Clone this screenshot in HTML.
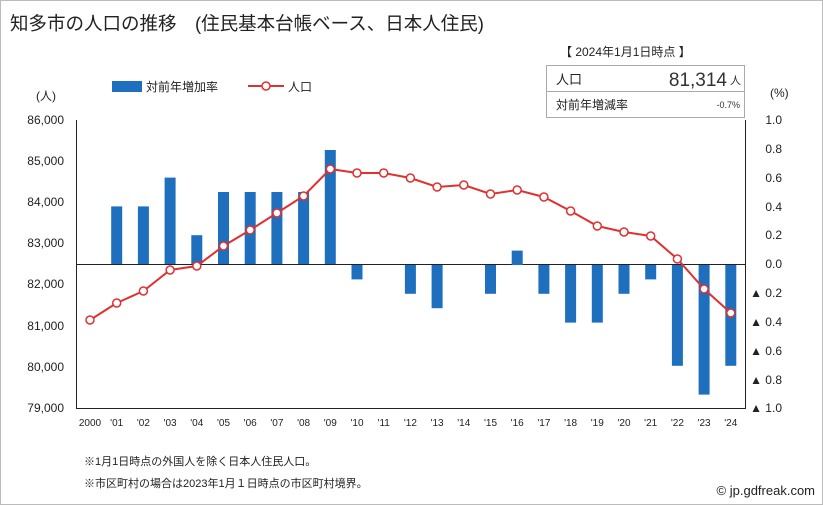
<!DOCTYPE html>
<html><head><meta charset="utf-8"><style>
body{margin:0;background:#fff}
svg{display:block;font-family:"Liberation Sans","Noto Sans CJK JP",sans-serif}
</style></head><body>
<svg width="823" height="505" viewBox="0 0 823 505">
<rect x="0.5" y="0.5" width="822" height="504" fill="#fff" stroke="#bbb"/>
<text x="10" y="30" font-size="18.5" fill="#222">知多市の人口の推移　(住民基本台帳ベース、日本人住民)</text>
<text x="560" y="56" font-size="12" fill="#222">【 2024年1月1日時点 】</text>
<rect x="546.5" y="65.5" width="198" height="52" fill="#fff" stroke="#aaa"/>
<line x1="546" y1="91.5" x2="745" y2="91.5" stroke="#aaa"/>
<text x="556" y="84" font-size="13" fill="#222">人口</text>
<text x="727" y="86" font-size="19" fill="#333" text-anchor="end">81,314</text>
<text x="730" y="84" font-size="11" fill="#333">人</text>
<text x="556" y="109" font-size="12" fill="#222">対前年増減率</text>
<text x="740" y="108" font-size="9" fill="#333" text-anchor="end">-0.7%</text>
<text x="770" y="97" font-size="12" fill="#222">(%)</text>
<text x="36" y="100" font-size="12" fill="#222">(人)</text>
<rect x="112" y="81" width="30" height="11" fill="#1f6fbf"/>
<text x="146" y="91" font-size="12" fill="#222">対前年増加率</text>
<line x1="248" y1="86" x2="284" y2="86" stroke="#e03030" stroke-width="2"/>
<circle cx="266" cy="86" r="4" fill="#fff" stroke="#e03030" stroke-width="1.5"/>
<text x="288" y="91" font-size="12" fill="#222">人口</text>
<g stroke="#222" stroke-width="1">
<line x1="76.5" y1="120" x2="76.5" y2="408"/>
<line x1="745.5" y1="120" x2="745.5" y2="408"/>
<line x1="76" y1="408.5" x2="746" y2="408.5"/>
<line x1="76" y1="264.5" x2="746" y2="264.5"/>
</g>
<g font-size="12" fill="#222" text-anchor="end">
<text x="64" y="124">86,000</text><text x="64" y="165">85,000</text><text x="64" y="206">84,000</text><text x="64" y="247">83,000</text><text x="64" y="288">82,000</text><text x="64" y="330">81,000</text><text x="64" y="371">80,000</text><text x="64" y="412">79,000</text>
</g>
<g font-size="12" fill="#222" text-anchor="end">
<text x="782" y="124">1.0</text><text x="782" y="153">0.8</text><text x="782" y="182">0.6</text><text x="782" y="211">0.4</text><text x="782" y="239">0.2</text><text x="782" y="268">0.0</text><text x="782" y="297">▲ 0.2</text><text x="782" y="326">▲ 0.4</text><text x="782" y="355">▲ 0.6</text><text x="782" y="384">▲ 0.8</text><text x="782" y="412">▲ 1.0</text>
</g>
<g fill="#1f6fbf">
<rect x="111.2" y="206.4" width="11" height="57.6"/>
<rect x="137.9" y="206.4" width="11" height="57.6"/>
<rect x="164.6" y="177.6" width="11" height="86.4"/>
<rect x="191.3" y="235.2" width="11" height="28.8"/>
<rect x="218" y="192" width="11" height="72"/>
<rect x="244.7" y="192" width="11" height="72"/>
<rect x="271.4" y="192" width="11" height="72"/>
<rect x="298.1" y="192" width="11" height="72"/>
<rect x="324.8" y="150" width="11" height="114"/>
<rect x="351.5" y="265" width="11" height="14.4"/>
<rect x="404.9" y="265" width="11" height="28.8"/>
<rect x="431.6" y="265" width="11" height="43.2"/>
<rect x="485" y="265" width="11" height="28.8"/>
<rect x="511.7" y="250.6" width="11" height="14.4"/>
<rect x="538.4" y="265" width="11" height="28.8"/>
<rect x="565.1" y="265" width="11" height="57.6"/>
<rect x="591.8" y="265" width="11" height="57.6"/>
<rect x="618.5" y="265" width="11" height="28.8"/>
<rect x="645.2" y="265" width="11" height="14.4"/>
<rect x="671.9" y="265" width="11" height="100.8"/>
<rect x="698.6" y="265" width="11" height="129.6"/>
<rect x="725.3" y="265" width="11" height="100.8"/>
</g>
<polyline fill="none" stroke="#e03030" stroke-width="2" points="90,320 116.7,303 143.4,291 170.1,270 196.8,266 223.5,246 250.2,230 276.9,213 303.6,196 330.3,169 357,173 383.7,173 410.4,178 437.1,187 463.8,185 490.5,194 517.2,190 543.9,197 570.6,211 597.3,226 624,232 650.7,236 677.4,259 704.1,289 730.8,313"/>
<g fill="#fff" stroke="#e03030" stroke-width="1.5">
<circle cx="90" cy="320" r="4"/><circle cx="116.7" cy="303" r="4"/><circle cx="143.4" cy="291" r="4"/><circle cx="170.1" cy="270" r="4"/><circle cx="196.8" cy="266" r="4"/><circle cx="223.5" cy="246" r="4"/><circle cx="250.2" cy="230" r="4"/><circle cx="276.9" cy="213" r="4"/><circle cx="303.6" cy="196" r="4"/><circle cx="330.3" cy="169" r="4"/><circle cx="357" cy="173" r="4"/><circle cx="383.7" cy="173" r="4"/><circle cx="410.4" cy="178" r="4"/><circle cx="437.1" cy="187" r="4"/><circle cx="463.8" cy="185" r="4"/><circle cx="490.5" cy="194" r="4"/><circle cx="517.2" cy="190" r="4"/><circle cx="543.9" cy="197" r="4"/><circle cx="570.6" cy="211" r="4"/><circle cx="597.3" cy="226" r="4"/><circle cx="624" cy="232" r="4"/><circle cx="650.7" cy="236" r="4"/><circle cx="677.4" cy="259" r="4"/><circle cx="704.1" cy="289" r="4"/><circle cx="730.8" cy="313" r="4"/>
</g>
<g font-size="10" fill="#222" text-anchor="middle">
<text x="90" y="426">2000</text><text x="116.7" y="426">'01</text><text x="143.4" y="426">'02</text><text x="170.1" y="426">'03</text><text x="196.8" y="426">'04</text><text x="223.5" y="426">'05</text><text x="250.2" y="426">'06</text><text x="276.9" y="426">'07</text><text x="303.6" y="426">'08</text><text x="330.3" y="426">'09</text><text x="357" y="426">'10</text><text x="383.7" y="426">'11</text><text x="410.4" y="426">'12</text><text x="437.1" y="426">'13</text><text x="463.8" y="426">'14</text><text x="490.5" y="426">'15</text><text x="517.2" y="426">'16</text><text x="543.9" y="426">'17</text><text x="570.6" y="426">'18</text><text x="597.3" y="426">'19</text><text x="624" y="426">'20</text><text x="650.7" y="426">'21</text><text x="677.4" y="426">'22</text><text x="704.1" y="426">'23</text><text x="730.8" y="426">'24</text>
</g>
<text x="84" y="465" font-size="11" fill="#222">※1月1日時点の外国人を除く日本人住民人口。</text>
<text x="84" y="487" font-size="11" fill="#222">※市区町村の場合は2023年1月１日時点の市区町村境界。</text>
<text x="815" y="495" font-size="13" fill="#222" text-anchor="end">© jp.gdfreak.com</text>
</svg>
</body></html>
